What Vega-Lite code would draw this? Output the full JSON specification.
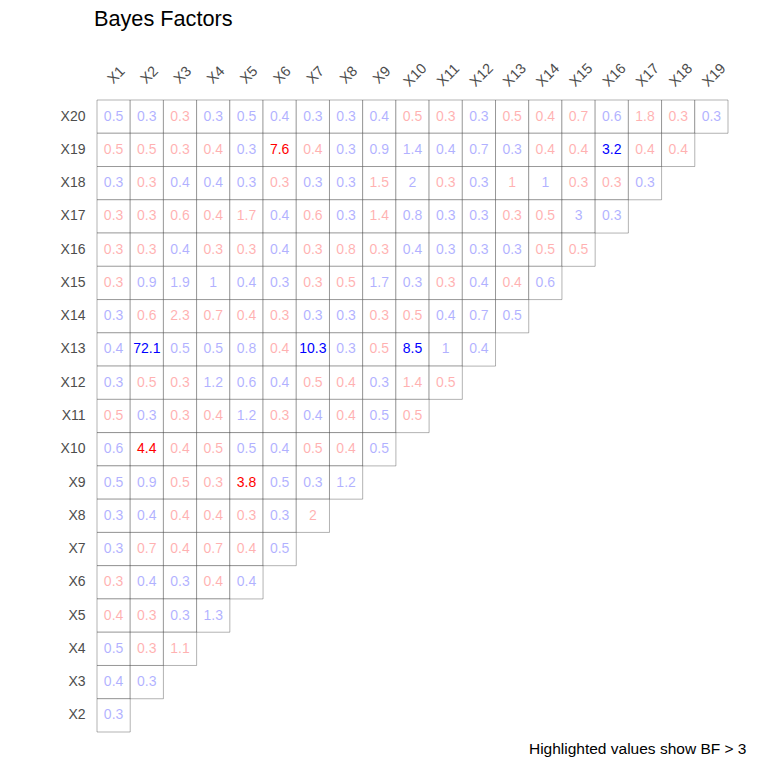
{
  "$schema": "https://vega.github.io/schema/vega-lite/v6.json",
  "width": 631,
  "height": 632,
  "autosize": {"type": "none"},
  "padding": {"left": 97, "top": 100, "right": 40, "bottom": 36},
  "background": "white",
  "title": {"text": "Bayes Factors", "anchor": "start", "frame": "group", "font": "Liberation Sans", "fontSize": 21.7, "fontWeight": "normal", "color": "black", "offset": 30, "dx": -3},
  "config": {"view": {"stroke": null}, "font": "Liberation Sans"},
  "data": {"values": [
    {"r":"X20","c":"X1","bf":0.5,"s":"p"},{"r":"X20","c":"X2","bf":0.3,"s":"p"},{"r":"X20","c":"X3","bf":0.3,"s":"n"},{"r":"X20","c":"X4","bf":0.3,"s":"p"},{"r":"X20","c":"X5","bf":0.5,"s":"p"},{"r":"X20","c":"X6","bf":0.4,"s":"p"},{"r":"X20","c":"X7","bf":0.3,"s":"p"},{"r":"X20","c":"X8","bf":0.3,"s":"p"},{"r":"X20","c":"X9","bf":0.4,"s":"p"},{"r":"X20","c":"X10","bf":0.5,"s":"n"},{"r":"X20","c":"X11","bf":0.3,"s":"n"},{"r":"X20","c":"X12","bf":0.3,"s":"p"},{"r":"X20","c":"X13","bf":0.5,"s":"n"},{"r":"X20","c":"X14","bf":0.4,"s":"n"},{"r":"X20","c":"X15","bf":0.7,"s":"n"},{"r":"X20","c":"X16","bf":0.6,"s":"p"},{"r":"X20","c":"X17","bf":1.8,"s":"n"},{"r":"X20","c":"X18","bf":0.3,"s":"n"},{"r":"X20","c":"X19","bf":0.3,"s":"p"},
    {"r":"X19","c":"X1","bf":0.5,"s":"n"},{"r":"X19","c":"X2","bf":0.5,"s":"n"},{"r":"X19","c":"X3","bf":0.3,"s":"n"},{"r":"X19","c":"X4","bf":0.4,"s":"n"},{"r":"X19","c":"X5","bf":0.3,"s":"p"},{"r":"X19","c":"X6","bf":7.6,"s":"n"},{"r":"X19","c":"X7","bf":0.4,"s":"n"},{"r":"X19","c":"X8","bf":0.3,"s":"p"},{"r":"X19","c":"X9","bf":0.9,"s":"p"},{"r":"X19","c":"X10","bf":1.4,"s":"p"},{"r":"X19","c":"X11","bf":0.4,"s":"p"},{"r":"X19","c":"X12","bf":0.7,"s":"p"},{"r":"X19","c":"X13","bf":0.3,"s":"p"},{"r":"X19","c":"X14","bf":0.4,"s":"n"},{"r":"X19","c":"X15","bf":0.4,"s":"n"},{"r":"X19","c":"X16","bf":3.2,"s":"p"},{"r":"X19","c":"X17","bf":0.4,"s":"n"},{"r":"X19","c":"X18","bf":0.4,"s":"n"},
    {"r":"X18","c":"X1","bf":0.3,"s":"p"},{"r":"X18","c":"X2","bf":0.3,"s":"n"},{"r":"X18","c":"X3","bf":0.4,"s":"p"},{"r":"X18","c":"X4","bf":0.4,"s":"p"},{"r":"X18","c":"X5","bf":0.3,"s":"p"},{"r":"X18","c":"X6","bf":0.3,"s":"n"},{"r":"X18","c":"X7","bf":0.3,"s":"p"},{"r":"X18","c":"X8","bf":0.3,"s":"p"},{"r":"X18","c":"X9","bf":1.5,"s":"n"},{"r":"X18","c":"X10","bf":2,"s":"p"},{"r":"X18","c":"X11","bf":0.3,"s":"n"},{"r":"X18","c":"X12","bf":0.3,"s":"p"},{"r":"X18","c":"X13","bf":1,"s":"n"},{"r":"X18","c":"X14","bf":1,"s":"p"},{"r":"X18","c":"X15","bf":0.3,"s":"n"},{"r":"X18","c":"X16","bf":0.3,"s":"n"},{"r":"X18","c":"X17","bf":0.3,"s":"p"},
    {"r":"X17","c":"X1","bf":0.3,"s":"n"},{"r":"X17","c":"X2","bf":0.3,"s":"n"},{"r":"X17","c":"X3","bf":0.6,"s":"n"},{"r":"X17","c":"X4","bf":0.4,"s":"n"},{"r":"X17","c":"X5","bf":1.7,"s":"n"},{"r":"X17","c":"X6","bf":0.4,"s":"p"},{"r":"X17","c":"X7","bf":0.6,"s":"n"},{"r":"X17","c":"X8","bf":0.3,"s":"p"},{"r":"X17","c":"X9","bf":1.4,"s":"n"},{"r":"X17","c":"X10","bf":0.8,"s":"p"},{"r":"X17","c":"X11","bf":0.3,"s":"p"},{"r":"X17","c":"X12","bf":0.3,"s":"p"},{"r":"X17","c":"X13","bf":0.3,"s":"n"},{"r":"X17","c":"X14","bf":0.5,"s":"n"},{"r":"X17","c":"X15","bf":3,"s":"p"},{"r":"X17","c":"X16","bf":0.3,"s":"p"},
    {"r":"X16","c":"X1","bf":0.3,"s":"n"},{"r":"X16","c":"X2","bf":0.3,"s":"n"},{"r":"X16","c":"X3","bf":0.4,"s":"p"},{"r":"X16","c":"X4","bf":0.3,"s":"n"},{"r":"X16","c":"X5","bf":0.3,"s":"n"},{"r":"X16","c":"X6","bf":0.4,"s":"p"},{"r":"X16","c":"X7","bf":0.3,"s":"n"},{"r":"X16","c":"X8","bf":0.8,"s":"n"},{"r":"X16","c":"X9","bf":0.3,"s":"n"},{"r":"X16","c":"X10","bf":0.4,"s":"p"},{"r":"X16","c":"X11","bf":0.3,"s":"p"},{"r":"X16","c":"X12","bf":0.3,"s":"p"},{"r":"X16","c":"X13","bf":0.3,"s":"p"},{"r":"X16","c":"X14","bf":0.5,"s":"n"},{"r":"X16","c":"X15","bf":0.5,"s":"n"},
    {"r":"X15","c":"X1","bf":0.3,"s":"n"},{"r":"X15","c":"X2","bf":0.9,"s":"p"},{"r":"X15","c":"X3","bf":1.9,"s":"p"},{"r":"X15","c":"X4","bf":1,"s":"p"},{"r":"X15","c":"X5","bf":0.4,"s":"p"},{"r":"X15","c":"X6","bf":0.3,"s":"p"},{"r":"X15","c":"X7","bf":0.3,"s":"n"},{"r":"X15","c":"X8","bf":0.5,"s":"n"},{"r":"X15","c":"X9","bf":1.7,"s":"p"},{"r":"X15","c":"X10","bf":0.3,"s":"p"},{"r":"X15","c":"X11","bf":0.3,"s":"n"},{"r":"X15","c":"X12","bf":0.4,"s":"p"},{"r":"X15","c":"X13","bf":0.4,"s":"n"},{"r":"X15","c":"X14","bf":0.6,"s":"p"},
    {"r":"X14","c":"X1","bf":0.3,"s":"p"},{"r":"X14","c":"X2","bf":0.6,"s":"n"},{"r":"X14","c":"X3","bf":2.3,"s":"n"},{"r":"X14","c":"X4","bf":0.7,"s":"n"},{"r":"X14","c":"X5","bf":0.4,"s":"n"},{"r":"X14","c":"X6","bf":0.3,"s":"n"},{"r":"X14","c":"X7","bf":0.3,"s":"p"},{"r":"X14","c":"X8","bf":0.3,"s":"p"},{"r":"X14","c":"X9","bf":0.3,"s":"n"},{"r":"X14","c":"X10","bf":0.5,"s":"n"},{"r":"X14","c":"X11","bf":0.4,"s":"p"},{"r":"X14","c":"X12","bf":0.7,"s":"p"},{"r":"X14","c":"X13","bf":0.5,"s":"p"},
    {"r":"X13","c":"X1","bf":0.4,"s":"p"},{"r":"X13","c":"X2","bf":72.1,"s":"p"},{"r":"X13","c":"X3","bf":0.5,"s":"p"},{"r":"X13","c":"X4","bf":0.5,"s":"p"},{"r":"X13","c":"X5","bf":0.8,"s":"p"},{"r":"X13","c":"X6","bf":0.4,"s":"n"},{"r":"X13","c":"X7","bf":10.3,"s":"p"},{"r":"X13","c":"X8","bf":0.3,"s":"p"},{"r":"X13","c":"X9","bf":0.5,"s":"n"},{"r":"X13","c":"X10","bf":8.5,"s":"p"},{"r":"X13","c":"X11","bf":1,"s":"p"},{"r":"X13","c":"X12","bf":0.4,"s":"p"},
    {"r":"X12","c":"X1","bf":0.3,"s":"p"},{"r":"X12","c":"X2","bf":0.5,"s":"n"},{"r":"X12","c":"X3","bf":0.3,"s":"n"},{"r":"X12","c":"X4","bf":1.2,"s":"p"},{"r":"X12","c":"X5","bf":0.6,"s":"p"},{"r":"X12","c":"X6","bf":0.4,"s":"p"},{"r":"X12","c":"X7","bf":0.5,"s":"n"},{"r":"X12","c":"X8","bf":0.4,"s":"n"},{"r":"X12","c":"X9","bf":0.3,"s":"p"},{"r":"X12","c":"X10","bf":1.4,"s":"n"},{"r":"X12","c":"X11","bf":0.5,"s":"n"},
    {"r":"X11","c":"X1","bf":0.5,"s":"n"},{"r":"X11","c":"X2","bf":0.3,"s":"p"},{"r":"X11","c":"X3","bf":0.3,"s":"n"},{"r":"X11","c":"X4","bf":0.4,"s":"n"},{"r":"X11","c":"X5","bf":1.2,"s":"p"},{"r":"X11","c":"X6","bf":0.3,"s":"n"},{"r":"X11","c":"X7","bf":0.4,"s":"p"},{"r":"X11","c":"X8","bf":0.4,"s":"n"},{"r":"X11","c":"X9","bf":0.5,"s":"p"},{"r":"X11","c":"X10","bf":0.5,"s":"n"},
    {"r":"X10","c":"X1","bf":0.6,"s":"p"},{"r":"X10","c":"X2","bf":4.4,"s":"n"},{"r":"X10","c":"X3","bf":0.4,"s":"n"},{"r":"X10","c":"X4","bf":0.5,"s":"n"},{"r":"X10","c":"X5","bf":0.5,"s":"p"},{"r":"X10","c":"X6","bf":0.4,"s":"p"},{"r":"X10","c":"X7","bf":0.5,"s":"n"},{"r":"X10","c":"X8","bf":0.4,"s":"n"},{"r":"X10","c":"X9","bf":0.5,"s":"p"},
    {"r":"X9","c":"X1","bf":0.5,"s":"p"},{"r":"X9","c":"X2","bf":0.9,"s":"p"},{"r":"X9","c":"X3","bf":0.5,"s":"n"},{"r":"X9","c":"X4","bf":0.3,"s":"n"},{"r":"X9","c":"X5","bf":3.8,"s":"n"},{"r":"X9","c":"X6","bf":0.5,"s":"p"},{"r":"X9","c":"X7","bf":0.3,"s":"p"},{"r":"X9","c":"X8","bf":1.2,"s":"p"},
    {"r":"X8","c":"X1","bf":0.3,"s":"p"},{"r":"X8","c":"X2","bf":0.4,"s":"p"},{"r":"X8","c":"X3","bf":0.4,"s":"n"},{"r":"X8","c":"X4","bf":0.4,"s":"n"},{"r":"X8","c":"X5","bf":0.3,"s":"n"},{"r":"X8","c":"X6","bf":0.3,"s":"p"},{"r":"X8","c":"X7","bf":2,"s":"n"},
    {"r":"X7","c":"X1","bf":0.3,"s":"p"},{"r":"X7","c":"X2","bf":0.7,"s":"n"},{"r":"X7","c":"X3","bf":0.4,"s":"n"},{"r":"X7","c":"X4","bf":0.7,"s":"n"},{"r":"X7","c":"X5","bf":0.4,"s":"n"},{"r":"X7","c":"X6","bf":0.5,"s":"p"},
    {"r":"X6","c":"X1","bf":0.3,"s":"n"},{"r":"X6","c":"X2","bf":0.4,"s":"p"},{"r":"X6","c":"X3","bf":0.3,"s":"p"},{"r":"X6","c":"X4","bf":0.4,"s":"n"},{"r":"X6","c":"X5","bf":0.4,"s":"p"},
    {"r":"X5","c":"X1","bf":0.4,"s":"n"},{"r":"X5","c":"X2","bf":0.3,"s":"n"},{"r":"X5","c":"X3","bf":0.3,"s":"p"},{"r":"X5","c":"X4","bf":1.3,"s":"p"},
    {"r":"X4","c":"X1","bf":0.5,"s":"p"},{"r":"X4","c":"X2","bf":0.3,"s":"n"},{"r":"X4","c":"X3","bf":1.1,"s":"n"},
    {"r":"X3","c":"X1","bf":0.4,"s":"p"},{"r":"X3","c":"X2","bf":0.3,"s":"p"},
    {"r":"X2","c":"X1","bf":0.3,"s":"p"}
  ]},
  "encoding": {
    "x": {"field": "c", "type": "nominal", "scale": {"domain": ["X1","X2","X3","X4","X5","X6","X7","X8","X9","X10","X11","X12","X13","X14","X15","X16","X17","X18","X19"], "paddingInner": 0, "paddingOuter": 0}},
    "y": {"field": "r", "type": "nominal", "scale": {"domain": ["X20","X19","X18","X17","X16","X15","X14","X13","X12","X11","X10","X9","X8","X7","X6","X5","X4","X3","X2"], "paddingInner": 0, "paddingOuter": 0}, "axis": {"title": null, "ticks": false, "domain": false, "labelPadding": 12, "labelFontSize": 14, "labelColor": "#4d4d4d", "labelFont": "Liberation Sans"}}
  },
  "layer": [
    {
      "mark": {"type": "rect", "fill": "white", "stroke": "black", "strokeOpacity": 0.3, "strokeWidth": 1},
      "encoding": {
        "x": {"field": "c", "type": "nominal", "axis": {"orient": "top", "title": null, "labelAngle": -45, "labelAlign": "center", "labelBaseline": "middle", "labelPadding": 25, "labelOffset": 3, "ticks": false, "domain": false, "labelFontSize": 14.5, "labelColor": "#4d4d4d", "labelFont": "Liberation Sans"}}
      }
    },
    {
      "mark": {"type": "text", "font": "Liberation Sans", "fontSize": 14},
      "encoding": {
        "x": {"field": "c", "type": "nominal", "axis": {"orient": "bottom", "labels": false, "ticks": false, "domain": false, "title": "Highlighted values show BF > 3", "titleAnchor": "end", "titleFontWeight": "normal", "titleFontSize": 15.5, "titleColor": "black", "titleFont": "Liberation Sans", "titlePadding": 9, "titleX": 649, "titleAlign": "right"}},
        "text": {"field": "bf", "type": "quantitative"},
        "color": {"field": "s", "type": "nominal", "scale": {"domain": ["p", "n"], "range": ["#0000ff", "#ff0000"]}, "legend": null},
        "opacity": {"condition": {"test": "datum.bf > 3", "value": 1}, "value": 0.3}
      }
    }
  ],
  "resolve": {"axis": {"x": "independent"}}
}
